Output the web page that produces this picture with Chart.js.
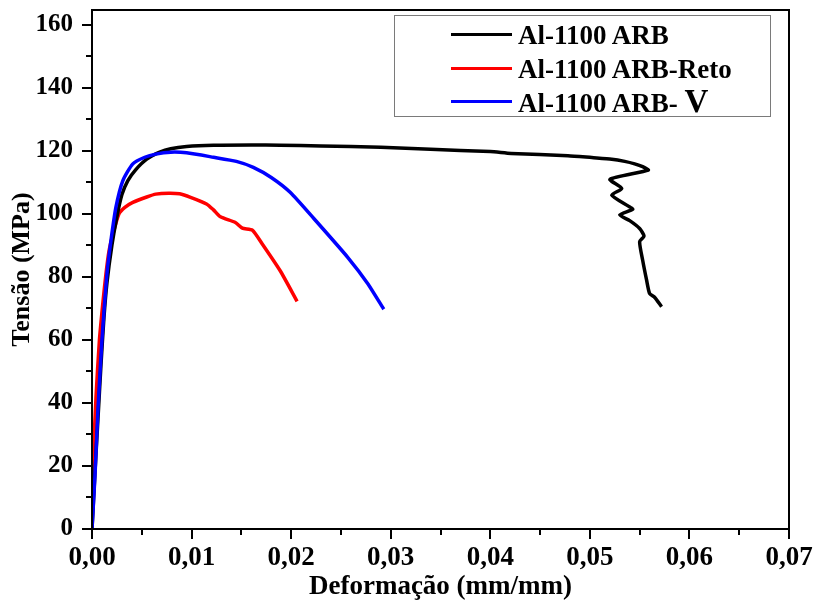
<!DOCTYPE html>
<html>
<head>
<meta charset="utf-8">
<script src="https://cdn.jsdelivr.net/npm/chart.js@4.4.1/dist/chart.umd.min.js"></script>
<style>
  body { margin: 0; background: #fff; }
  #wrap { position: relative; width: 813px; height: 606px; font-family: "Liberation Serif", "DejaVu Serif", serif; }
  #legendBox { position: absolute; left: 394px; top: 15px; width: 375px; height: 100px; border: 1.5px solid #7a7a7a; }
  .lg-line { position: absolute; left: 451px; width: 61px; height: 3px; }
  .lg-text { position: absolute; left: 518px; font-size: 27px; line-height: 27px; font-weight: bold; color: #000; white-space: nowrap; }
  .big-v { font-size: 33px; }
</style>
</head>
<body>
<div id="wrap">
  <canvas id="tensileChart" width="813" height="606"></canvas>
  <div id="legendBox"></div>
  <div class="lg-line" style="top:33px;background:#000"></div>
  <div class="lg-text" style="top:22px">Al-1100 ARB</div>
  <div class="lg-line" style="top:67px;background:#f00"></div>
  <div class="lg-text" style="top:56px">Al-1100 ARB-Reto</div>
  <div class="lg-line" style="top:100px;background:#00f"></div>
  <div class="lg-text" style="top:88px">Al-1100 ARB- <span class="big-v">V</span></div>
</div>
<script>
// tick labels
var xTicks = [0, 0.01, 0.02, 0.03, 0.04, 0.05, 0.06, 0.07];
var yTicks = [0, 20, 40, 60, 80, 100, 120, 140, 160];

// Al-1100 ARB (black)
var arbStrain = [0, 0.0003, 0.0006, 0.0009, 0.0012, 0.0015, 0.002, 0.0025, 0.003, 0.0036, 0.0044, 0.0055,
  0.0068, 0.0079, 0.0095, 0.0122, 0.016, 0.0189, 0.023, 0.029, 0.034, 0.040, 0.0421, 0.0478, 0.0502,
  0.0522, 0.0535, 0.0545, 0.0553, 0.05587, 0.05202, 0.0532, 0.0522, 0.05387, 0.0543, 0.0530, 0.0540,
  0.0550, 0.05544, 0.0550, 0.0553, 0.0557, 0.0560, 0.0565, 0.0572];
var arbStress = [0, 18, 35, 52, 67, 78, 90, 99, 106, 110.5, 114, 117.3,
  119.5, 120.6, 121.3, 121.7, 121.8, 121.7, 121.5, 121.1, 120.4, 119.7, 119.1, 118.4, 117.8,
  117.3, 116.6, 115.8, 114.9, 113.8, 110.9, 108.0, 105.9, 102.4, 101.4, 99.6, 97.8,
  95.3, 92.9, 91.1, 85.3, 78.9, 74.7, 73.5, 70.5];

// Al-1100 ARB-Reto (red)
var retoStrain = [0, 0.0001, 0.0004, 0.00074, 0.0011, 0.0014, 0.0017, 0.0021, 0.0027, 0.0033, 0.0041,
  0.0055, 0.0064, 0.0077, 0.0088, 0.0099, 0.0115, 0.0122, 0.0129, 0.0144, 0.0151, 0.0161, 0.0171,
  0.0189, 0.0206];
var retoStress = [0, 20, 41.7, 59.7, 72, 80.9, 88, 93.5, 99.9, 102, 103.6,
  105.3, 106.2, 106.5, 106.3, 105.2, 103.1, 101.2, 99, 97.2, 95.4, 94.8, 90.4,
  81.9, 72.2];

// Al-1100 ARB-V (blue)
var vStrain = [0, 0.0003, 0.0006, 0.001, 0.0015, 0.0019, 0.0024, 0.0031, 0.0041, 0.0053, 0.0064, 0.0079,
  0.0095, 0.0122, 0.0145, 0.0162, 0.018, 0.0199, 0.0223, 0.0257, 0.0277, 0.0293];
var vStress = [0, 17, 38, 60, 81, 91.4, 102, 110.5, 115.8, 117.9, 118.9, 119.5,
  119.3, 117.9, 116.6, 114.7, 111.5, 106.8, 98.4, 86.1, 77.8, 69.7];

function pts(xs, ys) {
  return xs.map(function (x, i) { return { x: x, y: ys[i] }; });
}

var tickFont = function (size) {
  return { family: '"Liberation Serif", serif', size: size, weight: 'bold' };
};

// frame + major/minor tick marks
var framePlugin = {
  id: 'frame',
  afterDraw: function (chart) {
    var ctx = chart.ctx, a = chart.chartArea;
    var xs = chart.scales.x, ys = chart.scales.y;
    ctx.save();
    ctx.strokeStyle = '#000';
    ctx.lineWidth = 2;
    ctx.beginPath();
    for (var v = 0; v <= 160.01; v += 10) {
      var py = Math.round(ys.getPixelForValue(v));
      var len = (Math.round(v) % 20 === 0) ? 10 : 6;
      ctx.moveTo(a.left - len, py);
      ctx.lineTo(a.left, py);
    }
    for (var k = 0; k <= 14; k++) {
      var px = Math.round(xs.getPixelForValue(k * 0.005));
      var l2 = (k % 2 === 0) ? 10 : 6;
      ctx.moveTo(px, a.bottom);
      ctx.lineTo(px, a.bottom + l2);
    }
    ctx.stroke();
    ctx.strokeRect(a.left, a.top, a.right - a.left, a.bottom - a.top);
    ctx.restore();
  }
};

function noPad(s) {
  s.paddingTop = 0; s.paddingBottom = 0; s.paddingLeft = 0; s.paddingRight = 0;
}

new Chart(document.getElementById('tensileChart'), {
  type: 'scatter',
  data: {
    datasets: [
      { label: 'Al-1100 ARB- V', data: pts(vStrain, vStress), borderColor: '#0000ff', order: 1 },
      { label: 'Al-1100 ARB', data: pts(arbStrain, arbStress), borderColor: '#000000', order: 2 },
      { label: 'Al-1100 ARB-Reto', data: pts(retoStrain, retoStress), borderColor: '#ff0000', order: 3 }
    ]
  },
  options: {
    responsive: false,
    animation: false,
    devicePixelRatio: 1,
    datasets: {
      scatter: { showLine: true, pointRadius: 0, borderWidth: 3.5, tension: 0.2, fill: false }
    },
    layout: { padding: { left: 0, top: 10, right: 24, bottom: 0 } },
    plugins: { legend: { display: false }, tooltip: { enabled: false } },
    scales: {
      x: {
        type: 'linear', min: 0, max: 0.07,
        grid: { display: false, drawTicks: false },
        border: { display: false },
        afterBuildTicks: function (s) { s.ticks = xTicks.map(function (v) { return { value: v }; }); },
        afterFit: function (s) { s.height = 77; noPad(s); },
        ticks: {
          color: '#000', font: tickFont(27), padding: 13, maxRotation: 0, autoSkip: false,
          callback: function (v) { return v.toFixed(2).replace('.', ','); }
        },
        title: { display: true, text: 'Deformação (mm/mm)', color: '#000', font: tickFont(27), padding: { top: 0, bottom: 3 } }
      },
      y: {
        type: 'linear', min: 0, max: 164.6,
        grid: { display: false, drawTicks: false },
        border: { display: false },
        afterBuildTicks: function (s) { s.ticks = yTicks.map(function (v) { return { value: v }; }); },
        afterFit: function (s) { s.width = 92; noPad(s); },
        ticks: {
          color: '#000', font: tickFont(25), padding: 19, autoSkip: false,
          callback: function (v) { return String(v); }
        },
        title: { display: true, text: 'Tensão (MPa)', color: '#000', font: tickFont(26), padding: { top: 7, bottom: 0 } }
      }
    }
  },
  plugins: [framePlugin]
});
</script>
</body>
</html>
